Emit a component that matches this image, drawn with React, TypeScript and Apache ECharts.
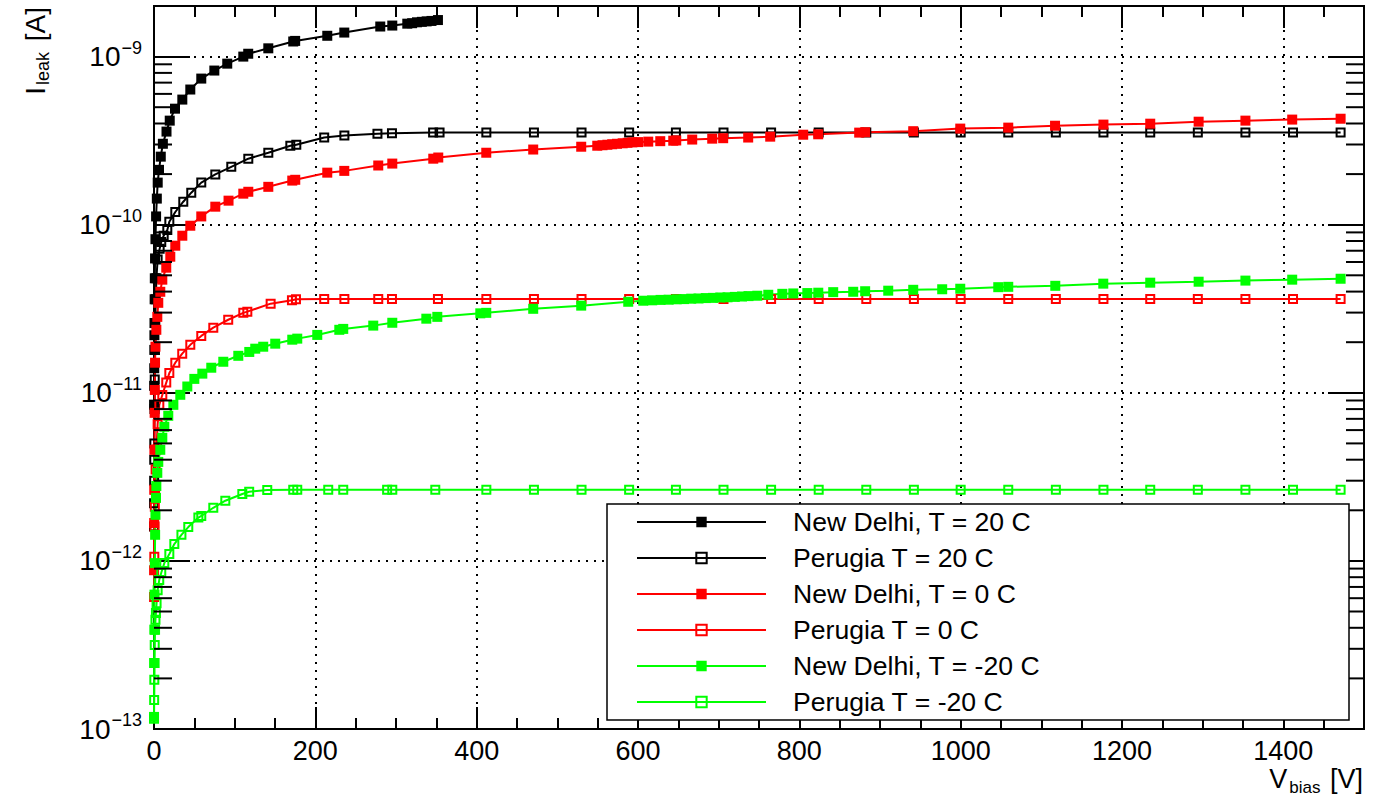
import React, { useEffect, useRef } from 'react';
import * as echarts from 'echarts';

const FONT = '"Liberation Sans", Arial, Helvetica, sans-serif';
const BLACK = '#000000';
const RED = '#ff0000';
const GREEN = '#00ff00';

const SERIES_NAMES = [
  'New Delhi, T = 20 C',
  'Perugia T = 20 C',
  'New Delhi, T = 0 C',
  'Perugia T = 0 C',
  'New Delhi, T = -20 C',
  'Perugia T = -20 C',
];

const X_TICK_LABELS = [0, 200, 400, 600, 800, 1000, 1200, 1400];
const Y_DECADES = [-13, -12, -11, -10, -9];
const Y_MINOR_MULTIPLIERS = [2, 3, 4, 5, 6, 7, 8, 9];

// [V_bias (V), I_leak (A)]
const NEW_DELHI_20 = [
  [0.1, 8.5e-12], [0.2, 1.1e-11], [0.3, 1.4e-11], [0.4, 1.8e-11], [0.5, 2.2e-11], [0.6, 2.6e-11],
  [0.8, 3.6e-11], [1.0, 4.8e-11], [1.3, 6.3e-11],
  [1.8, 8.2e-11], [2.6, 1.12e-10], [3.5, 1.43e-10], [4.6, 1.78e-10], [6.2, 2.12e-10], [8.4, 2.54e-10],
  [11, 3.03e-10], [15.5, 3.58e-10], [19.5, 4.16e-10], [26, 4.9e-10], [35.1, 5.55e-10], [45, 6.37e-10],
  [58.6, 7.4e-10], [74.8, 8.26e-10], [90.8, 9.08e-10], [110.7, 1.0e-9], [116.8, 1.04e-9], [141.7, 1.12e-9],
  [172.6, 1.23e-9], [175, 1.24e-9], [214.8, 1.33e-9], [235.9, 1.39e-9], [280.5, 1.51e-9], [295.4, 1.53e-9],
  [314, 1.57e-9], [320, 1.58e-9], [326, 1.6e-9], [332, 1.61e-9], [338, 1.62e-9], [344, 1.63e-9], [352, 1.65e-9],
];

const PERUGIA_20 = [
  [0, 1.6e-12], [0.1, 2.2e-12], [0.2, 3e-12], [0.3, 4e-12], [0.4, 5e-12], [0.6, 8e-12], [0.9, 1.2e-11],
  [1.2, 1.8e-11], [1.6, 2.6e-11],
  [2.2, 3.6e-11], [3, 4.8e-11], [4.5, 6.2e-11], [7, 7.2e-11], [9, 7.9e-11], [12, 8.6e-11], [16.5, 9.3e-11],
  [19, 1.04e-10], [26.4, 1.19e-10], [36.3, 1.37e-10], [46.2, 1.55e-10], [58.6, 1.78e-10], [76, 1.99e-10],
  [95.8, 2.21e-10], [116.9, 2.47e-10], [141.7, 2.68e-10], [169, 2.95e-10], [176.4, 2.99e-10], [211, 3.3e-10],
  [236, 3.39e-10], [277, 3.48e-10], [295, 3.5e-10], [346, 3.53e-10], [354, 3.53e-10], [412, 3.53e-10],
  [471, 3.53e-10], [530, 3.53e-10], [589, 3.53e-10], [647, 3.53e-10], [706, 3.53e-10], [765, 3.53e-10],
  [824, 3.53e-10], [883, 3.53e-10], [942, 3.53e-10], [1000, 3.53e-10], [1059, 3.53e-10], [1118, 3.53e-10],
  [1177, 3.53e-10], [1235, 3.53e-10], [1294, 3.53e-10], [1353, 3.53e-10], [1412, 3.53e-10], [1471, 3.53e-10],
];

const NEW_DELHI_0 = [
  [0.1, 8.8e-13], [0.2, 1.68e-12], [0.3, 2.65e-12], [0.5, 4.58e-12], [0.8, 7.6e-12], [1.0, 1.04e-11],
  [1.3, 1.51e-11], [1.8, 1.88e-11], [2.9, 2.37e-11], [4.1, 2.83e-11], [5.3, 3.43e-11], [7.8, 3.99e-11],
  [10.3, 4.71e-11], [15.2, 5.55e-11], [20.2, 6.45e-11], [26.4, 7.5e-11], [35.1, 8.6e-11], [45, 9.86e-11],
  [58.6, 1.12e-10], [76, 1.28e-10], [92.4, 1.39e-10], [110.7, 1.53e-10], [116.9, 1.57e-10], [141.7, 1.68e-10],
  [171.4, 1.83e-10], [175.1, 1.85e-10], [214.8, 2.04e-10], [235.9, 2.09e-10], [278, 2.25e-10], [295.4, 2.31e-10],
  [346.2, 2.47e-10], [352.4, 2.51e-10], [411.9, 2.68e-10], [470.1, 2.8e-10], [529.6, 2.91e-10], [549.5, 2.95e-10],
  [556, 2.97e-10], [562, 2.99e-10], [568, 3.01e-10], [574, 3.03e-10], [581, 3.05e-10], [587, 3.07e-10],
  [593, 3.09e-10], [600, 3.1e-10], [612.7, 3.12e-10], [627.6, 3.14e-10], [643.7, 3.16e-10], [647.4, 3.17e-10],
  [667.2, 3.21e-10], [692, 3.25e-10], [705.6, 3.27e-10], [736.6, 3.3e-10], [763.9, 3.34e-10], [804.8, 3.43e-10],
  [823.4, 3.45e-10], [874.2, 3.53e-10], [881.6, 3.55e-10], [941.2, 3.6e-10], [999.5, 3.73e-10], [1059, 3.78e-10],
  [1117, 3.88e-10], [1177, 3.94e-10], [1235, 3.99e-10], [1295, 4.1e-10], [1353, 4.16e-10], [1411, 4.22e-10],
  [1471, 4.27e-10],
];

const PERUGIA_0 = [
  [0.1, 6.1e-13], [0.4, 1.06e-12], [0.7, 1.6e-12], [1.0, 2.1e-12], [1.4, 2.65e-12], [2, 3.5e-12],
  [3, 4.6e-12], [4.5, 6.5e-12], [6.6, 8.5e-12], [10.3, 9.7e-12], [15.2, 1.15e-11], [19, 1.31e-11],
  [26.4, 1.51e-11], [35, 1.71e-11], [45, 1.93e-11], [58.6, 2.18e-11], [73.5, 2.44e-11], [92, 2.72e-11],
  [110.7, 2.99e-11], [115.7, 3.04e-11], [144.6, 3.39e-11], [171, 3.55e-11], [176, 3.6e-11], [211, 3.62e-11],
  [236, 3.62e-11], [278, 3.62e-11], [295, 3.62e-11], [352, 3.62e-11], [412, 3.62e-11], [471, 3.62e-11],
  [530, 3.62e-11], [589, 3.62e-11], [647, 3.62e-11], [706, 3.62e-11], [765, 3.62e-11], [824, 3.62e-11],
  [883, 3.62e-11], [942, 3.62e-11], [1000, 3.62e-11], [1059, 3.62e-11], [1118, 3.62e-11], [1177, 3.62e-11],
  [1235, 3.62e-11], [1294, 3.62e-11], [1353, 3.62e-11], [1412, 3.62e-11], [1471, 3.62e-11],
];

const NEW_DELHI_M20 = [
  [0.05, 1.18e-13], [0.25, 2.47e-13], [0.4, 3.9e-13], [0.6, 6.3e-13], [1.0, 9.7e-13], [1.4, 1.43e-12],
  [1.8, 1.88e-12], [2.5, 2.37e-12], [2.9, 2.79e-12], [4.1, 3.34e-12], [5.3, 3.88e-12], [7.8, 4.58e-12],
  [10.3, 5.4e-12], [12.8, 6.28e-12], [17.7, 7.3e-12], [24, 8.48e-12], [32.6, 9.73e-12], [41.3, 1.09e-11],
  [50, 1.21e-11], [59.9, 1.3e-11], [71, 1.41e-11], [85.9, 1.53e-11], [104.5, 1.66e-11], [118.1, 1.75e-11],
  [125.5, 1.83e-11], [135.4, 1.88e-11], [150.3, 1.96e-11], [171.4, 2.07e-11], [177.6, 2.1e-11], [202.4, 2.21e-11],
  [229.7, 2.37e-11], [234.6, 2.4e-11], [271.8, 2.51e-11], [295.4, 2.61e-11], [337.6, 2.76e-11], [351.2, 2.83e-11],
  [404.5, 2.97e-11], [411.9, 2.99e-11], [470.1, 3.16e-11], [529.6, 3.3e-11], [587.9, 3.48e-11], [606.5, 3.53e-11],
  [617.6, 3.55e-11], [628, 3.57e-11], [638, 3.58e-11], [648, 3.6e-11], [657, 3.61e-11], [666, 3.63e-11],
  [675, 3.64e-11], [684, 3.66e-11], [693, 3.67e-11], [702, 3.69e-11], [711, 3.7e-11], [720, 3.72e-11],
  [729, 3.74e-11], [737, 3.76e-11], [747.9, 3.78e-11], [761.5, 3.83e-11], [778.9, 3.88e-11], [792.5, 3.9e-11],
  [809.9, 3.92e-11], [823.5, 3.94e-11], [842, 3.97e-11], [866.8, 3.99e-11], [881.6, 4.02e-11], [910.2, 4.05e-11],
  [941.2, 4.1e-11], [977.1, 4.13e-11], [999.5, 4.16e-11], [1046.6, 4.25e-11], [1059, 4.27e-11], [1117.3, 4.33e-11],
  [1176.8, 4.46e-11], [1235, 4.52e-11], [1295, 4.58e-11], [1353, 4.65e-11], [1411, 4.71e-11], [1471, 4.77e-11],
];

const PERUGIA_M20 = [
  [0, 1.15e-13], [0.2, 1.49e-13], [0.4, 1.96e-13], [0.6, 2.47e-13], [0.9, 3.16e-13], [1.3, 3.9e-13],
  [1.8, 4.46e-13], [2.4, 4.9e-13], [3.2, 5.6e-13], [4.5, 6.7e-13], [6.5, 7.7e-13], [9, 8.5e-13],
  [12.8, 9.7e-13], [19, 1.1e-12], [25.2, 1.26e-12], [34, 1.43e-12], [42.5, 1.59e-12], [55, 1.81e-12],
  [58.6, 1.85e-12], [73.5, 2.07e-12], [88.4, 2.28e-12], [109.5, 2.5e-12], [118, 2.58e-12], [140.4, 2.64e-12],
  [172.6, 2.65e-12], [177.6, 2.65e-12], [216, 2.65e-12], [234.6, 2.65e-12], [289, 2.65e-12], [295.4, 2.65e-12],
  [348.7, 2.65e-12], [412, 2.65e-12], [471, 2.65e-12], [530, 2.65e-12], [589, 2.65e-12], [647, 2.65e-12],
  [706, 2.65e-12], [765, 2.65e-12], [824, 2.65e-12], [883, 2.65e-12], [942, 2.65e-12], [1000, 2.65e-12],
  [1059, 2.65e-12], [1118, 2.65e-12], [1177, 2.65e-12], [1235, 2.65e-12], [1294, 2.65e-12], [1353, 2.65e-12],
  [1412, 2.65e-12], [1471, 2.65e-12],
];

const X_MIN = 0;
const X_MAX = 1500;
const Y_MIN = 1e-13;
const Y_MAX = 2e-9;

function lineSeries(name: string, data: number[][], color: string, filled: boolean) {
  return {
    type: 'line',
    name,
    data,
    xAxisIndex: 0,
    yAxisIndex: 0,
    symbol: 'rect',
    symbolSize: filled ? 10 : 8,
    showSymbol: true,
    clip: false,
    smooth: false,
    z: 3,
    lineStyle: { color, width: 2 },
    itemStyle: filled
      ? { color, borderColor: color, borderWidth: 0 }
      : { color: 'rgba(255,255,255,0)', borderColor: color, borderWidth: 2 },
    emphasis: { disabled: true },
  };
}

const dotted = { color: BLACK, width: 2, type: [2, 6] as number[] };

export default function App() {
  const ref = useRef<HTMLDivElement>(null);

  useEffect(() => {
    document.body.style.margin = '0';
    if (!ref.current) return;
    const chart = echarts.init(ref.current, undefined, { renderer: 'svg' });

    const minorTicks: number[][] = [];
    Y_DECADES.forEach((d) => {
      Y_MINOR_MULTIPLIERS.forEach((m) => {
        const v = m * Math.pow(10, d);
        if (v < Y_MAX) minorTicks.push([0, v]);
      });
    });

    const yLabel = (v: number) => {
      const e = Math.log10(v);
      const r = Math.round(e);
      if (Math.abs(e - r) > 1e-6) return '';
      return '{b|10}{s|\u2212' + String(-r) + '}';
    };

    const option: any = {
      animation: false,
      backgroundColor: '#ffffff',
      textStyle: { fontFamily: FONT },
      grid: {
        left: 154,
        right: 9,
        top: 6,
        bottom: 67,
        show: true,
        borderColor: BLACK,
        borderWidth: 2,
        backgroundColor: 'transparent',
      },
      xAxis: [
        {
          type: 'value',
          min: X_MIN,
          max: X_MAX,
          interval: 200,
          position: 'bottom',
          axisLine: { show: true, onZero: false, lineStyle: { color: BLACK, width: 2 } },
          axisTick: { show: true, inside: true, length: 22, lineStyle: { color: BLACK, width: 2 } },
          minorTick: { show: true, splitNumber: 4, length: 11, lineStyle: { color: BLACK, width: 2 } },
          splitLine: { show: true, lineStyle: dotted },
          axisLabel: {
            show: true,
            margin: 9,
            color: BLACK,
            fontSize: 27,
            lineHeight: 26,
            fontFamily: FONT,
            formatter: (v: number) => (X_TICK_LABELS.indexOf(v) >= 0 ? String(v) : ''),
          },
        },
        {
          type: 'value',
          min: X_MIN,
          max: X_MAX,
          interval: 200,
          position: 'top',
          axisLine: { show: true, onZero: false, lineStyle: { color: BLACK, width: 2 } },
          axisTick: { show: true, inside: true, length: 22, lineStyle: { color: BLACK, width: 2 } },
          minorTick: { show: true, splitNumber: 4, length: 11, lineStyle: { color: BLACK, width: 2 } },
          splitLine: { show: false },
          axisLabel: { show: false },
        },
      ],
      yAxis: [
        {
          type: 'log',
          logBase: 10,
          min: Y_MIN,
          max: Y_MAX,
          position: 'left',
          axisLine: { show: true, onZero: false, lineStyle: { color: BLACK, width: 2 } },
          axisTick: { show: true, inside: true, length: 36, lineStyle: { color: BLACK, width: 2 } },
          splitLine: { show: true, lineStyle: dotted },
          axisLabel: {
            show: true,
            margin: 12,
            color: BLACK,
            formatter: yLabel,
            rich: {
              b: { fontSize: 28, lineHeight: 28, fontFamily: FONT, color: BLACK, verticalAlign: 'bottom' },
              s: { fontSize: 18, lineHeight: 18, fontFamily: FONT, color: BLACK, verticalAlign: 'bottom', padding: [0, 0, 14, 1] },
            },
          },
        },
        {
          type: 'log',
          logBase: 10,
          min: Y_MIN,
          max: Y_MAX,
          position: 'right',
          axisLine: { show: true, onZero: false, lineStyle: { color: BLACK, width: 2 } },
          axisTick: { show: true, inside: true, length: 36, lineStyle: { color: BLACK, width: 2 } },
          splitLine: { show: false },
          axisLabel: { show: false },
        },
      ],
      legend: {
        data: SERIES_NAMES,
        orient: 'vertical',
        left: 636,
        top: 507,
        padding: 0,
        itemWidth: 129,
        itemHeight: 13,
        itemGap: 6,
        selectedMode: false,
        z: 10,
        textStyle: {
          fontSize: 26.6,
          fontFamily: FONT,
          color: BLACK,
          lineHeight: 30,
          padding: [0, 0, 0, 22],
        },
      },
      graphic: [
        {
          type: 'rect',
          z: 5,
          shape: { x: 607, y: 504, width: 742, height: 216 },
          style: { fill: '#ffffff', stroke: BLACK, lineWidth: 1.5 },
          silent: true,
        },
        {
          type: 'text',
          x: 49,
          y: 7,
          rotation: Math.PI / 2,
          z: 5,
          silent: true,
          style: {
            text: '{m|I}{s|leak}{m| [A]}',
            align: 'right',
            verticalAlign: 'bottom',
            textAlign: 'right',
            textVerticalAlign: 'bottom',
            fill: BLACK,
            rich: {
              m: { fontSize: 28, lineHeight: 28, fontFamily: FONT, fill: BLACK, verticalAlign: 'top' },
              s: { fontSize: 18, lineHeight: 18, fontFamily: FONT, fill: BLACK, verticalAlign: 'top', padding: [13, 3, 0, 2] },
            },
          },
        },
        {
          type: 'text',
          x: 1363,
          y: 765,
          z: 5,
          silent: true,
          style: {
            text: '{m|V}{s|bias}{m| [V]}',
            align: 'right',
            verticalAlign: 'top',
            textAlign: 'right',
            textVerticalAlign: 'top',
            fill: BLACK,
            rich: {
              m: { fontSize: 27, lineHeight: 22, fontFamily: FONT, fill: BLACK, verticalAlign: 'top' },
              s: { fontSize: 17, lineHeight: 16, fontFamily: FONT, fill: BLACK, verticalAlign: 'top', padding: [14, 2, 0, 2] },
            },
          },
        },
      ],
      series: [
        lineSeries(SERIES_NAMES[0], NEW_DELHI_20, BLACK, true),
        lineSeries(SERIES_NAMES[1], PERUGIA_20, BLACK, false),
        lineSeries(SERIES_NAMES[2], NEW_DELHI_0, RED, true),
        lineSeries(SERIES_NAMES[3], PERUGIA_0, RED, false),
        lineSeries(SERIES_NAMES[4], NEW_DELHI_M20, GREEN, true),
        lineSeries(SERIES_NAMES[5], PERUGIA_M20, GREEN, false),
        {
          type: 'custom',
          name: 'yMinorTicks',
          xAxisIndex: 0,
          yAxisIndex: 0,
          silent: true,
          z: 4,
          data: minorTicks,
          renderItem: (params: any, api: any) => {
            const y = api.coord([0, api.value(1)])[1];
            const cs = params.coordSys;
            const st = { stroke: BLACK, lineWidth: 2 };
            return {
              type: 'group',
              children: [
                { type: 'line', shape: { x1: cs.x, y1: y, x2: cs.x + 18, y2: y }, style: st },
                { type: 'line', shape: { x1: cs.x + cs.width - 18, y1: y, x2: cs.x + cs.width, y2: y }, style: st },
              ],
            };
          },
        },
      ],
    };

    chart.setOption(option);
    return () => {
      chart.dispose();
    };
  }, []);

  return <div ref={ref} style={{ width: 1373, height: 796 }} />;
}
